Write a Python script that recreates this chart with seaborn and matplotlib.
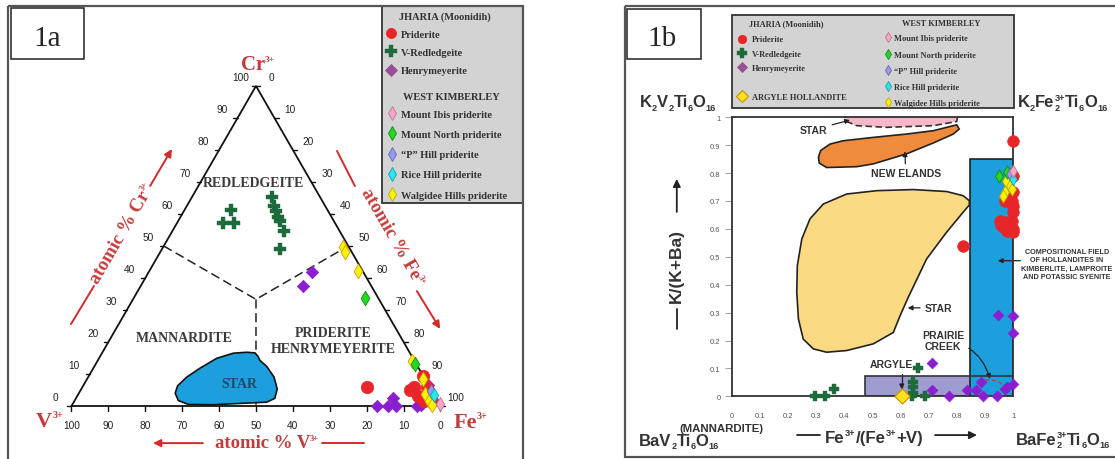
import numpy as np
import matplotlib
matplotlib.use("Agg")
import matplotlib.pyplot as plt
import seaborn as sns
from matplotlib.patches import Rectangle, Polygon, Ellipse
from matplotlib.lines import Line2D
from matplotlib.font_manager import FontProperties

sns.set_style("white")
plt.rcParams["font.family"] = ["Liberation Serif", "DejaVu Sans"]

# ------------------------------------------------------------------ data 1a (atomic %)
tern_ticks = [0, 10, 20, 30, 40, 50, 60, 70, 80, 90, 100]
redl_cr = [61.3, 57.2, 57.2, 65.3, 62.5, 60.9, 59.1, 57.8, 54.7, 49.1]
redl_fe = [12.6, 12.5, 15.4, 21.7, 23.6, 25.0, 26.4, 27.6, 30.2, 32.0]
henry_cr = [41.9, 37.5, 0.0, 0.0, 2.5, 0.0, 0.0, 0.3, 6.6]
henry_fe = [44.2, 44.0, 82.8, 85.8, 85.9, 87.9, 93.6, 94.6, 93.3]
prid_cr = [5.9, 5.0, 5.9, 9.4, 3.1, 1.6, 5.9, 1.6]
prid_fe = [77.1, 89.2, 89.9, 90.6, 92.4, 94.7, 93.4, 96.9]
walg_cr = [49.7, 48.1, 42.2, 14.1, 8.4, 3.8, 1.6, 0.3]
walg_fe = [48.7, 50.1, 56.5, 85.2, 91.1, 93.9, 96.1, 97.5]
mnorth_cr = [33.8, 13.1]
mnorth_fe = [62.7, 86.5]
phill_cr = [4.7]
phill_fe = [95.1]
rice_cr = [3.4]
rice_fe = [96.5]
ibis_cr = [0.6]
ibis_fe = [99.6]
# STAR field outline (atomic % Cr, Fe)
star_cr = [16.6, 16.8, 16.5, 14.9, 11.8, 9.0, 6.3, 4.0, 1.7, 0.5, 0.4, 0.8, 1.2, 2.4, 5.3, 9.0, 12.4, 14.2, 15.6]
star_fe = [41.4, 39.1, 35.6, 31.9, 28.9, 26.7, 25.6, 26.1, 28.1, 31.4, 38.2, 45.2, 52.3, 53.9, 53.1, 50.4, 46.7, 44.0, 42.7]
# field boundaries (edges to centre)
bnd_cr = [50.0, 33.33, 50.0, 33.33, 0.0]
bnd_fe = [0.0, 33.33, 50.0, 33.33, 50.0]

# ------------------------------------------------------------------ data 1b
ticks_b = [0, 0.1, 0.2, 0.3, 0.4, 0.5, 0.6, 0.7, 0.8, 0.9, 1.0]
tick_labels_b = ["0", "0.1", "0.2", "0.3", "0.4", "0.5", "0.6", "0.7", "0.8", "0.9", "1"]
b_prid_x = [1.0, 0.822, 1.0, 1.0, 0.970, 0.994, 1.0, 1.0, 0.953, 0.970, 0.994, 0.964, 0.988, 1.0, 0.976, 1.0, 0.958]
b_prid_y = [0.916, 0.540, 0.790, 0.731, 0.701, 0.701, 0.683, 0.660, 0.630, 0.624, 0.630, 0.606, 0.606, 0.600, 0.594, 0.588, 0.615]
b_redl_x = [0.296, 0.331, 0.363, 0.643, 0.645, 0.639, 0.663, 0.686, 0.645]
b_redl_y = [0.0, 0.0, 0.026, 0.053, 0.032, 0.0, 0.100, 0.0, 0.012]
b_henry_x = [0.710, 0.710, 0.773, 0.834, 0.867, 0.885, 0.891, 0.943, 0.970, 0.976, 1.0, 0.947, 1.0, 1.0]
b_henry_y = [0.118, 0.023, 0.0, 0.023, 0.023, 0.050, 0.0, 0.0, 0.026, 0.032, 0.044, 0.292, 0.287, 0.227]
b_argyle_x = [0.604]
b_argyle_y = [0.0]
b_mnorth_x = [0.949, 0.976]
b_mnorth_y = [0.791, 0.805]
b_ibis_x = [1.0]
b_ibis_y = [0.809]
b_phill_x = [0.988]
b_phill_y = [0.797]
b_rice_x = [0.998]
b_rice_y = [0.779]
b_walg_x = [0.974, 0.988, 0.970, 0.994, 0.964]
b_walg_y = [0.773, 0.755, 0.731, 0.743, 0.719]
# fields
star_b_x = [0.844, 0.822, 0.763, 0.645, 0.515, 0.408, 0.325, 0.278, 0.249, 0.233, 0.231, 0.237, 0.254, 0.290,
            0.337, 0.408, 0.503, 0.574, 0.598, 0.627, 0.692, 0.763, 0.822, 0.844]
star_b_y = [0.701, 0.719, 0.734, 0.741, 0.737, 0.725, 0.689, 0.636, 0.564, 0.468, 0.373, 0.277, 0.205, 0.170,
            0.158, 0.164, 0.188, 0.229, 0.289, 0.355, 0.492, 0.588, 0.660, 0.686]
newel_x = [0.308, 0.316, 0.349, 0.396, 0.503, 0.621, 0.716, 0.799, 0.808, 0.787, 0.716, 0.621, 0.503, 0.444, 0.337, 0.311]
newel_y = [0.857, 0.881, 0.904, 0.916, 0.928, 0.940, 0.952, 0.973, 0.958, 0.940, 0.908, 0.869, 0.833, 0.823, 0.820, 0.836]
startop_x = [0.396, 0.408, 0.444, 0.550, 0.716, 0.799, 0.805]
startop_y = [1.02, 0.985, 0.970, 0.964, 0.970, 0.985, 1.02]
holl_x = [0.846, 1.0]
holl_y = [0.0, 0.85]
argyle_field_x = [0.475, 1.0]
argyle_field_y = [0.0, 0.072]
prairie_xy = (0.917, 0.030)
prairie_wh = (0.095, 0.056)

# ------------------------------------------------------------------ colours
RED = "#e8262a"; DKGREEN = "#1d6b3a"; PURPLE = "#8a1fd0"; PURPLE_LEG = "#9a4f95"
PINK = "#f7a8c8"; PINK_E = "#c07090"
MNORTH = "#22d822"; MNORTH_E = "#118a11"
PHILL = "#9a9af0"; PHILL_E = "#6464b0"
RICE = "#28e6f2"; RICE_E = "#17a0a8"
WALG = "#fff200"; WALG_E = "#c8a400"
ARGY = "#ffe21a"; ARGY_E = "#c89000"
BLUE = "#1c9fdc"; ORANGE = "#f08b3d"; LTYEL = "#fcd983"; LAV = "#9e9cd1"; LPINK = "#f6b8c8"
LRED = "#c43b3b"; TXT = "#3a3a3a"; GRAYBOX = "#d3d3d3"; DARK = "#333333"

W, H = 1115, 460
fig = plt.figure(figsize=(11.15, 4.6), dpi=100)
renderer = fig.canvas.get_renderer()

# overlay in pixel coordinates (y downwards) for frames, labels and legend boxes
axO = fig.add_axes([0, 0, 1, 1])
axO.set_xlim(0, W); axO.set_ylim(H, 0); axO.axis("off")
axO.patch.set_alpha(0)


def rich(cx, cy, segs, fs, family, color, rot=0.0, ratio=0.55, drop=0.2, rise=0.4, weight="bold", z=5):
    """Lay out text pieces with small sub/superscripts; (cx, cy) = centre of the baseline (pixels)."""
    fs_px = fs * 100 / 72.0
    r = np.deg2rad(rot)
    u = np.array([np.cos(r), -np.sin(r)])
    n = np.array([-np.sin(r), -np.cos(r)])

    def width(s, size):
        t = axO.text(0, 0, s, fontsize=size, family=family, fontweight=weight)
        w = t.get_window_extent(renderer).width
        t.remove()
        return w

    items, total = [], 0.0
    for s, kind in segs:
        if kind == "n":
            w = width(s, fs)
        elif kind == "supsub":
            w = max(width(s[0], fs * ratio), width(s[1], fs * ratio))
        else:
            w = width(s, fs * ratio)
        items.append((s, kind, total))
        total += w
    start = np.array([cx, cy]) - u * total / 2.0
    kw = dict(family=family, fontweight=weight, color=color, rotation=rot, rotation_mode="anchor",
              ha="left", va="baseline", zorder=z, clip_on=False)
    for s, kind, off in items:
        p = start + u * off
        if kind == "n":
            axO.text(p[0], p[1], s, fontsize=fs, **kw)
        if kind in ("sup", "supsub"):
            q = p + n * rise * fs_px
            axO.text(q[0], q[1], s[0] if kind == "supsub" else s, fontsize=fs * ratio, **kw)
        if kind in ("sub", "supsub"):
            q = p - n * drop * fs_px
            axO.text(q[0], q[1], s[1] if kind == "supsub" else s, fontsize=fs * ratio, **kw)


axO.add_patch(Rectangle((8, 7), 515, 480, fill=False, ec="#555", lw=1.6))
axO.add_patch(Rectangle((625, 7), 600, 451, fill=False, ec="#555", lw=1.6))
axO.add_patch(Rectangle((11, 9), 73, 51, fill=False, ec="#222", lw=1.1))
axO.text(47, 46.5, "1a", ha="center", va="baseline", fontsize=21, family="Liberation Serif")
axO.add_patch(Rectangle((627, 10), 74, 50, fill=False, ec="#222", lw=1.1))
axO.text(662, 46.5, "1b", ha="center", va="baseline", fontsize=21, family="Liberation Serif")
axO.add_patch(Rectangle((382, 7), 141, 197, fc=GRAYBOX, ec=DARK, lw=1.3, zorder=0))
axO.add_patch(Rectangle((732, 16), 282, 93, fc=GRAYBOX, ec=DARK, lw=1.3, zorder=0))
hdr = dict(ha="center", va="center", family="Liberation Serif", fontweight="bold", color=DARK)
axO.text(444.5, 17, "JHARIA (Moonidih)", fontsize=7.5, **hdr)
axO.text(451, 97, "WEST KIMBERLEY", fontsize=7.5, **hdr)
axO.text(786, 24, "JHARIA (Moonidih)", fontsize=6, **hdr)
axO.text(941, 24, "WEST KIMBERLEY", fontsize=6, **hdr)

# red labels of the ternary diagram
SER = "Liberation Serif"
rich(258, 69.5, [("Cr", "n"), ("3+", "sup")], 15, SER, LRED, ratio=0.45, rise=0.38)
rich(49.5, 426.7, [("V", "n"), ("3+", "sup")], 16, SER, LRED, ratio=0.45, rise=0.38)
rich(470.5, 427.7, [("Fe", "n"), ("3+", "sup")], 16, SER, LRED, ratio=0.45, rise=0.38)
rich(267, 448.5, [("atomic % V", "n"), ("3+", "sup")], 13.5, SER, LRED, ratio=0.45, rise=0.38)
rich(126.5, 236, [("atomic % Cr", "n"), ("3+", "sup")], 13.5, SER, LRED, rot=60, ratio=0.45, rise=0.38)
rich(388.5, 240, [("atomic % Fe", "n"), ("3+", "sup")], 13.5, SER, LRED, rot=-60, ratio=0.45, rise=0.38)

# formula labels of 1b
SAN = "Liberation Sans"
rich(678, 107.3, [("K", "n"), ("2", "sub"), ("V", "n"), ("2", "sub"), ("Ti", "n"), ("6", "sub"),
                  ("O", "n"), ("16", "sub")], 12, SAN, DARK)
rich(1062.5, 107.3, [("K", "n"), ("2", "sub"), ("Fe", "n"), (("3+", "2"), "supsub"), ("Ti", "n"), ("6", "sub"),
                     ("O", "n"), ("16", "sub")], 12, SAN, DARK)
rich(679, 446, [("BaV", "n"), ("2", "sub"), ("Ti", "n"), ("6", "sub"), ("O", "n"), ("16", "sub")], 12, SAN, DARK)
rich(1063, 445, [("BaFe", "n"), (("3+", "2"), "supsub"), ("Ti", "n"), ("6", "sub"), ("O", "n"), ("16", "sub")],
     12, SAN, DARK)
rich(721, 431.7, [("(MANNARDITE)", "n")], 8.2, SAN, DARK)
rich(874, 443, [("Fe", "n"), ("3+", "sup"), ("/(Fe", "n"), ("3+", "sup"), ("+V)", "n")], 12.2, SAN, DARK)

# ------------------------------------------------------------------ 1a ternary
SX, SY, X0, Y0 = 3.69, 3.2, 71.5, 407.0
axL = fig.add_axes([8 / W, 0, 515 / W, 453 / H])
axL.set_xlim((8 - X0) / SX, (523 - X0) / SX)
axL.set_ylim((Y0 - 460) / SY, (Y0 - 7) / SY)
axL.axis("off")
axL.patch.set_alpha(0)


def tern(cr, fe):
    cr = np.asarray(cr, float); fe = np.asarray(fe, float)
    return fe + cr / 2.0, cr


axL.plot([0, 100, 50, 0], [0, 0, 100, 0], color="#111", lw=1.3, zorder=3, solid_joinstyle="miter")
tick_font = dict(ha="center", va="center", fontsize=7.3, family="Liberation Sans", color="#222")
for v in tern_ticks:
    x, y = tern(v, 0)
    axL.plot([x, x - 1.1], [y, y], color="#111", lw=1.0)
    axL.text(x - 4.22, y + 2.81, str(v), **tick_font)
    x, y = tern(100 - v, v)
    axL.plot([x, x + 1.1], [y, y], color="#111", lw=1.0)
    axL.text(x + 4.22, y + 2.81, str(v), **tick_font)
    x, y = tern(0, 100 - v)
    axL.plot([x, x], [0, -1.6], color="#111", lw=1.0)
    axL.text(x, -5.94, str(v), **tick_font)

bx, by = tern(bnd_cr, bnd_fe)
axL.plot(bx[:3], by[:3], color="#222", lw=1.1, ls=(0, (6, 3)), zorder=2)
axL.plot(bx[3:], by[3:], color="#222", lw=1.1, ls=(0, (6, 3)), zorder=2)

sx, sy = tern(star_cr, star_fe)
axL.add_patch(Polygon(np.column_stack([sx, sy]), closed=True, fc=BLUE, ec="#111", lw=1.2, zorder=3))

reg = dict(ha="center", va="center", fontsize=10, fontweight="bold", family="Liberation Serif", color=TXT)
axL.text(49.3, 69.7, "REDLEDGEITE", **reg)
axL.text(30.5, 21.3, "MANNARDITE", **reg)
axL.text(70.9, 23.1, "PRIDERITE", **reg)
axL.text(70.9, 18.1, "HENRYMEYERITE", **reg)
axL.text(45.4, 6.9, "STAR", **dict(reg, color="#1f4866", zorder=4))

RC = "#d42a2a"
arr = dict(arrowstyle="-|>", color=RC, lw=1.4, mutation_scale=11, shrinkA=0, shrinkB=0)
axL.plot([-0.14, 6.1], [25.6, 37.5], color=RC, lw=1.4)
axL.annotate("", xy=(27.2, 80.3), xytext=(21.3, 68.75), arrowprops=arr)
axL.plot([71.95, 76.8], [79.7, 68.75], color=RC, lw=1.4)
axL.annotate("", xy=(99.9, 24.1), xytext=(93.6, 35.9), arrowprops=arr)
axL.annotate("", xy=(22.1, -11.6), xytext=(35.6, -11.6), arrowprops=arr)
axL.plot([67.9, 79.3], [-11.6, -11.6], color=RC, lw=1.4)


def sc(ax, x, y, marker, s, fc, ec, lw=0.6, z=6):
    sns.scatterplot(x=np.asarray(x, float), y=np.asarray(y, float), marker=marker, s=s, color=fc,
                    edgecolor=ec, linewidth=lw, ax=ax, legend=False, zorder=z, clip_on=False)


x, y = tern(redl_cr, redl_fe); sc(axL, x, y, "P", 75, DKGREEN, DKGREEN, 0.3)
x, y = tern(henry_cr, henry_fe); sc(axL, x, y, "D", 40, PURPLE, PURPLE, 0.5)
x, y = tern(prid_cr, prid_fe); sc(axL, x, y, "o", 80, RED, RED, 0.5)
x, y = tern(walg_cr, walg_fe); sc(axL, x, y, "d", 55, WALG, WALG_E, 0.6)
x, y = tern(mnorth_cr, mnorth_fe); sc(axL, x, y, "d", 55, MNORTH, MNORTH_E, 0.6)
x, y = tern(phill_cr, phill_fe); sc(axL, x, y, "d", 50, PHILL, PHILL_E, 0.6)
x, y = tern(rice_cr, rice_fe); sc(axL, x, y, "d", 50, RICE, RICE_E, 0.6)
x, y = tern(ibis_cr, ibis_fe); sc(axL, x, y, "d", 50, PINK, PINK_E, 0.6)

# ------------------------------------------------------------------ 1b
axR = fig.add_axes([731.7 / W, 1 - 397.3 / H, 281.6 / W, 279 / H])
axR.set_xlim(0, 1); axR.set_ylim(0, 1)
axR.patch.set_alpha(0)
axR.set_xticks(ticks_b); axR.set_xticklabels(tick_labels_b)
axR.set_yticks(ticks_b); axR.set_yticklabels(tick_labels_b)
for lab in axR.get_xticklabels() + axR.get_yticklabels():
    lab.set_family("Liberation Sans")
axR.tick_params(axis="y", length=5, width=0.8, color="#aaa", pad=3, labelsize=5.5, labelcolor="#555", left=True)
axR.tick_params(axis="x", length=0, pad=11, labelsize=5.5, labelcolor="#555", bottom=True)
for sp in axR.spines.values():
    sp.set_color(DARK); sp.set_linewidth(1.3); sp.set_zorder(5)

axR.add_patch(Polygon(np.column_stack([star_b_x, star_b_y]), closed=True, fc=LTYEL, ec="#222", lw=1.2, zorder=1))
axR.add_patch(Polygon(np.column_stack([newel_x, newel_y]), closed=True, fc=ORANGE, ec="#222", lw=1.2, zorder=1))
axR.add_patch(Polygon(np.column_stack([startop_x, startop_y]), closed=True, fc=LPINK, ec=DARK, lw=1.2,
                      ls=(0, (4, 2)), zorder=1))
axR.add_patch(Rectangle((argyle_field_x[0], argyle_field_y[0]), argyle_field_x[1] - argyle_field_x[0],
                        argyle_field_y[1] - argyle_field_y[0], fc=LAV, ec="none", zorder=2))
axR.add_patch(Rectangle((holl_x[0], holl_y[0]), holl_x[1] - holl_x[0], holl_y[1] - holl_y[0],
                        fc=BLUE, ec="#222", lw=1.2, zorder=3))
axR.add_patch(Rectangle((argyle_field_x[0], argyle_field_y[0]), argyle_field_x[1] - argyle_field_x[0],
                        argyle_field_y[1] - argyle_field_y[0], fill=False, ec=DARK, lw=1.2, zorder=4))
axR.add_patch(Ellipse(prairie_xy, prairie_wh[0], prairie_wh[1], fill=False, ec="#c04040", lw=1.0,
                      ls=(0, (3, 2)), zorder=4))

sc(axR, b_redl_x, b_redl_y, "P", 50, DKGREEN, DKGREEN, 0.3)
sc(axR, b_henry_x, b_henry_y, "D", 30, PURPLE, PURPLE, 0.5)
sc(axR, b_prid_x, b_prid_y, "o", 70, RED, RED, 0.5)
sc(axR, b_argyle_x, b_argyle_y, "D", 60, ARGY, ARGY_E, 0.8)
sc(axR, b_walg_x, b_walg_y, "d", 45, WALG, WALG_E, 0.6)
sc(axR, b_mnorth_x, b_mnorth_y, "d", 45, MNORTH, MNORTH_E, 0.6)
sc(axR, b_phill_x, b_phill_y, "d", 40, PHILL, PHILL_E, 0.6)
sc(axR, b_rice_x, b_rice_y, "d", 40, RICE, RICE_E, 0.6)
sc(axR, b_ibis_x, b_ibis_y, "d", 40, PINK, PINK_E, 0.6)

ann = dict(fontsize=7.5, fontweight="bold", family="Liberation Sans", color=DARK, ha="center", va="center")
ap = dict(arrowstyle="-|>", color="#222", lw=0.9, mutation_scale=7, shrinkA=1, shrinkB=0)
axR.annotate("STAR", xy=(0.42, 0.99), xytext=(0.292, 0.956), arrowprops=ap, **ann)
axR.annotate("NEW ELANDS", xy=(0.615, 0.878), xytext=(0.618, 0.799), arrowprops=ap, **ann)
axR.annotate("STAR", xy=(0.625, 0.317), xytext=(0.734, 0.317), arrowprops=ap, **ann)
axR.annotate("PRAIRIE\nCREEK", xy=(0.917, 0.062), xytext=(0.751, 0.2),
             arrowprops=dict(ap, connectionstyle="arc3,rad=-0.35"), linespacing=1.15, **ann)
axR.annotate("ARGYLE", xy=(0.604, 0.025), xytext=(0.566, 0.116),
             arrowprops=dict(ap, connectionstyle="angle,angleA=0,angleB=90,rad=0"), **ann)
axR.annotate("", xy=(0.945, 0.486), xytext=(1.03, 0.486), arrowprops=ap, annotation_clip=False)
axR.text(1.191, 0.474, "COMPOSITIONAL FIELD\nOF HOLLANDITES IN\nKIMBERLITE, LAMPROITE\nAND POTASSIC SYENITE",
         fontsize=5.2, fontweight="bold", family="Liberation Sans", color=DARK, ha="center", va="center",
         linespacing=1.25, clip_on=False)

axR.text(-0.195, 0.471, "K/(K+Ba)", rotation=90, fontsize=12.5, fontweight="bold", family="Liberation Sans",
         color=DARK, ha="center", va="center", transform=axR.transAxes, clip_on=False)
lap = dict(arrowstyle="-|>", color="#222", lw=1.3, mutation_scale=11, shrinkA=0, shrinkB=0)
axR.annotate("", xy=(0.871, -0.139), xytext=(0.722, -0.139), xycoords="axes fraction", arrowprops=lap,
             annotation_clip=False)
axR.plot([0.232, 0.314], [-0.139, -0.139], transform=axR.transAxes, clip_on=False, color="#222", lw=1.3)
axR.annotate("", xy=(-0.195, 0.779), xytext=(-0.195, 0.661), xycoords="axes fraction", arrowprops=lap,
             annotation_clip=False)
axR.plot([-0.195, -0.195], [0.242, 0.313], transform=axR.transAxes, clip_on=False, color="#222", lw=1.3)


# ------------------------------------------------------------------ legends
def hnd(marker, ms, fc, ec, mew=0.6):
    return Line2D([], [], ls="", marker=marker, ms=ms, mfc=fc, mec=ec, mew=mew)


def add_legend(handles, labels, ax_px, ay_px, fs, ls, hl, htp):
    fp = FontProperties(family="Liberation Serif", weight="bold", size=fs)
    leg = fig.legend(handles, labels, loc="upper left", bbox_to_anchor=(ax_px / W, 1 - ay_px / H),
                     bbox_transform=fig.transFigure, frameon=False, borderpad=0, borderaxespad=0,
                     labelspacing=ls, handlelength=hl, handletextpad=htp, prop=fp)
    for t in leg.get_texts():
        t.set_color(DARK)
    return leg


add_legend([hnd("o", 7.2, RED, RED), hnd("P", 8, DKGREEN, DKGREEN, 0.3), hnd("D", 6, PURPLE_LEG, PURPLE_LEG)],
           ["Priderite", "V-Redledgeite", "Henrymeyerite"], 385.5, 30.5, 7.5, 0.86, 1.0, 0.49)
add_legend([hnd("d", 6.8, PINK, PINK_E), hnd("d", 6.8, MNORTH, MNORTH_E), hnd("d", 6.8, PHILL, PHILL_E),
            hnd("d", 6.8, RICE, RICE_E), hnd("d", 6.8, WALG, WALG_E)],
           ["Mount Ibis priderite", "Mount North priderite", "\u201cP\u201d Hill priderite", "Rice Hill priderite",
            "Walgidee Hills priderite"], 386.5, 110.5, 7.5, 1.05, 1.0, 0.4)
add_legend([hnd("o", 6, RED, RED), hnd("P", 6.5, DKGREEN, DKGREEN, 0.3), hnd("D", 5, PURPLE_LEG, PURPLE_LEG)],
           ["Priderite", "V-Redledgeite", "Henrymeyerite"], 737.8, 36.5, 6, 0.75, 1.0, 0.7)
add_legend([hnd("D", 6, ARGY, ARGY_E, 0.8)], ["ARGYLE HOLLANDITE"], 737.8, 93.5, 6, 0.75, 1.0, 0.7)
add_legend([hnd("d", 5.5, PINK, PINK_E), hnd("d", 5.5, MNORTH, MNORTH_E), hnd("d", 5.5, PHILL, PHILL_E),
            hnd("d", 5.5, RICE, RICE_E), hnd("d", 5.5, WALG, WALG_E)],
           ["Mount Ibis priderite", "Mount North priderite", "\u201cP\u201d Hill priderite", "Rice Hill priderite",
            "Walgidee Hills priderite"], 884.7, 35.4, 6, 0.99, 0.8, 0.32)

fig.savefig("out.png", dpi=100)
